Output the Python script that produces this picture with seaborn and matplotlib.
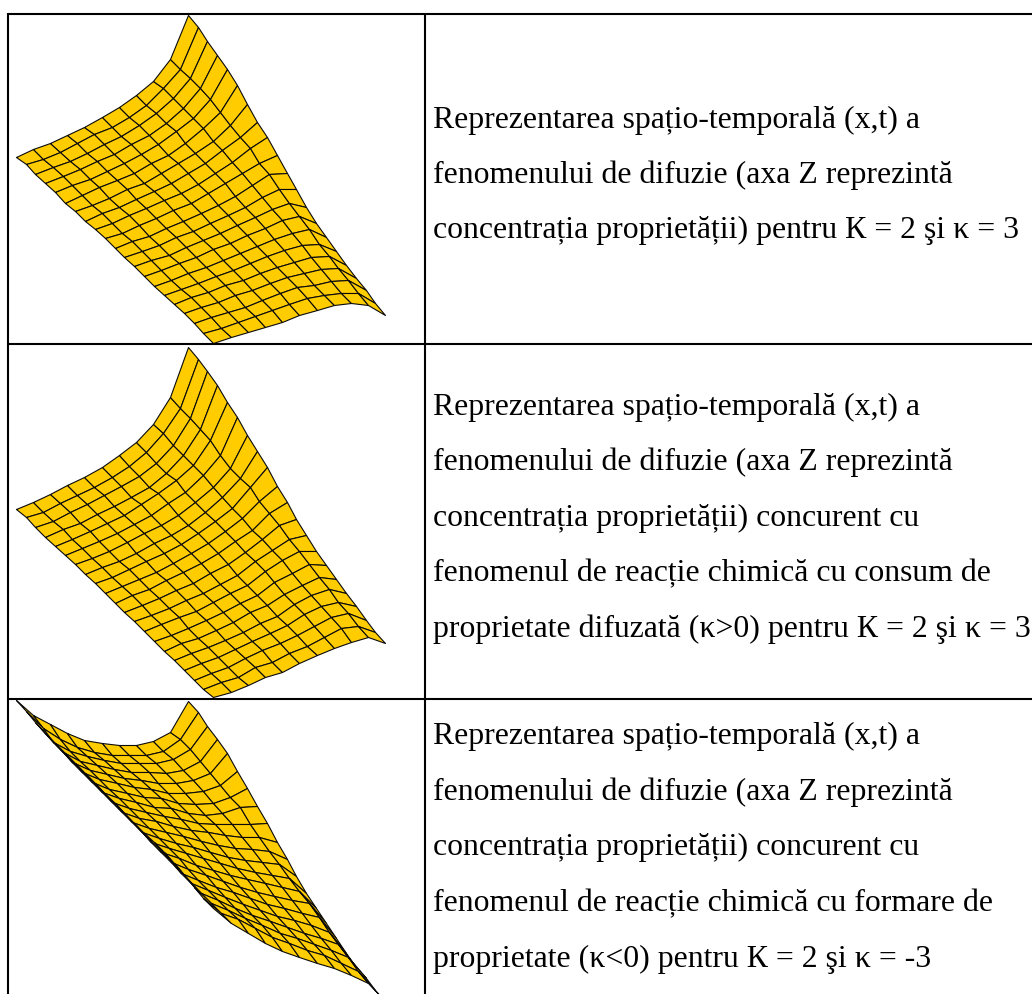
import matplotlib
matplotlib.use("Agg")
import matplotlib.pyplot as plt
from matplotlib.colors import ListedColormap
import seaborn as sns
import numpy as np

# grid of the surface: 11 nodes along x, 21 along t
x_nodes = list(range(11))
t_nodes = list(range(21))

# surface heights, one row per t node
surface_a = [
    [470, 447, 430, 405, 380, 350, 320, 285, 242, 178, 45],
    [492, 477, 455, 428, 402, 380, 350, 315, 265, 207, 80],
    [522, 500, 483, 458, 432, 408, 375, 338, 295, 235, 122],
    [548, 527, 508, 482, 462, 433, 405, 370, 325, 265, 165],
    [577, 555, 537, 512, 490, 462, 432, 392, 355, 297, 207],
    [608, 585, 562, 540, 520, 490, 465, 428, 385, 335, 255],
    [632, 615, 593, 568, 548, 520, 490, 458, 422, 375, 312],
    [662, 638, 622, 598, 573, 548, 520, 490, 450, 412, 365],
    [687, 668, 645, 625, 600, 580, 552, 520, 485, 445, 412],
    [715, 698, 675, 655, 630, 608, 580, 548, 518, 488, 465],
    [745, 723, 707, 685, 662, 640, 615, 588, 555, 522, 520],
    [770, 752, 735, 712, 692, 670, 645, 620, 590, 567, 568],
    [798, 780, 765, 742, 720, 700, 675, 652, 628, 610, 622],
    [828, 810, 790, 772, 748, 730, 705, 685, 660, 648, 668],
    [858, 840, 820, 800, 780, 760, 738, 718, 700, 688, 710],
    [885, 868, 848, 828, 810, 790, 768, 750, 735, 733, 752],
    [912, 892, 875, 855, 840, 820, 800, 785, 770, 768, 795],
    [940, 920, 905, 885, 870, 848, 830, 820, 808, 805, 833],
    [970, 952, 935, 920, 900, 880, 862, 855, 842, 840, 870],
    [1000, 985, 965, 948, 930, 912, 895, 885, 878, 880, 910],
    [1028, 1012, 997, 980, 965, 945, 930, 915, 908, 915, 945],
]
surface_b = [
    [508, 485, 462, 435, 410, 380, 345, 305, 252, 172, 20],
    [530, 515, 490, 465, 440, 410, 378, 335, 280, 205, 58],
    [562, 542, 517, 492, 465, 438, 408, 368, 315, 235, 92],
    [590, 567, 548, 523, 498, 470, 440, 400, 345, 268, 135],
    [617, 597, 572, 550, 525, 492, 460, 420, 375, 300, 185],
    [645, 625, 602, 578, 552, 525, 490, 455, 405, 345, 232],
    [672, 655, 632, 605, 580, 555, 525, 485, 440, 385, 285],
    [703, 682, 663, 638, 610, 585, 555, 515, 472, 415, 332],
    [730, 710, 688, 663, 640, 613, 580, 543, 505, 440, 382],
    [758, 738, 717, 695, 670, 640, 608, 572, 535, 482, 437],
    [788, 765, 747, 720, 695, 670, 640, 603, 570, 520, 485],
    [815, 795, 775, 750, 728, 700, 672, 635, 598, 555, 538],
    [842, 825, 805, 780, 758, 732, 705, 663, 630, 598, 585],
    [872, 853, 832, 812, 785, 760, 735, 692, 660, 633, 633],
    [903, 885, 863, 840, 815, 790, 765, 727, 700, 672, 675],
    [933, 910, 893, 870, 845, 817, 795, 762, 735, 712, 717],
    [960, 940, 922, 900, 875, 850, 828, 792, 765, 747, 760],
    [990, 970, 950, 927, 903, 878, 855, 822, 798, 785, 798],
    [1020, 1000, 980, 955, 930, 910, 885, 857, 830, 820, 840],
    [1048, 1027, 1010, 982, 965, 940, 917, 890, 865, 857, 875],
    [1072, 1055, 1035, 1012, 995, 968, 945, 923, 905, 892, 910],
]
surface_c = [
    [30, 75, 102, 130, 150, 160, 165, 165, 153, 125, 33],
    [62, 115, 148, 170, 185, 195, 195, 195, 182, 148, 65],
    [95, 155, 183, 197, 210, 220, 218, 220, 207, 178, 108],
    [130, 185, 212, 225, 238, 245, 247, 250, 240, 213, 148],
    [160, 215, 240, 253, 265, 270, 280, 280, 270, 248, 190],
    [190, 245, 268, 280, 292, 298, 308, 310, 303, 285, 243],
    [220, 275, 297, 308, 320, 325, 340, 342, 338, 320, 295],
    [250, 305, 325, 335, 350, 355, 370, 375, 368, 352, 347],
    [280, 335, 355, 365, 378, 388, 398, 402, 402, 402, 400],
    [312, 365, 385, 392, 408, 420, 427, 435, 442, 440, 455],
    [340, 395, 415, 425, 438, 452, 465, 473, 478, 482, 508],
    [370, 425, 445, 458, 470, 485, 502, 510, 515, 522, 558],
    [400, 455, 475, 490, 505, 520, 535, 545, 555, 565, 610],
    [430, 485, 505, 525, 540, 555, 568, 580, 592, 602, 655],
    [455, 515, 538, 555, 573, 590, 605, 618, 630, 640, 700],
    [485, 550, 570, 590, 607, 625, 642, 655, 668, 680, 745],
    [520, 580, 600, 622, 642, 660, 678, 690, 705, 725, 790],
    [555, 610, 630, 655, 675, 692, 710, 728, 745, 762, 830],
    [590, 640, 660, 685, 705, 728, 745, 762, 780, 800, 865],
    [625, 670, 688, 715, 740, 760, 780, 795, 820, 842, 900],
    [655, 700, 730, 760, 782, 800, 820, 835, 855, 880, 932],
]

text_a = [
    "Reprezentarea spațio-temporală (x,t) a",
    "fenomenului de difuzie (axa Z reprezintă",
    "concentrația proprietății) pentru К = 2 şi κ = 3",
]
text_b = [
    "Reprezentarea spațio-temporală (x,t) a",
    "fenomenului de difuzie (axa Z reprezintă",
    "concentrația proprietății) concurent cu",
    "fenomenul de reacție chimică cu consum de",
    "proprietate difuzată (κ>0) pentru К = 2 şi κ = 3",
]
text_c = [
    "Reprezentarea spațio-temporală (x,t) a",
    "fenomenului de difuzie (axa Z reprezintă",
    "concentrația proprietății) concurent cu",
    "fenomenul de reacție chimică cu formare de",
    "proprietate (κ<0) pentru К = 2 şi κ = -3",
]

W, H = 1032, 994
SCALE = 3  # heights were read on a 3x crop of each table row

sns.set_theme(style="white")
plt.rcParams["font.family"] = ["Liberation Serif", "DejaVu Serif"]

fig = plt.figure(figsize=(W / 100, H / 100), dpi=100, facecolor="white")


def draw_surface(heights, top_px, height_px):
    # one axes per table row, in the units the heights were read in
    ax = fig.add_axes([0, 1 - (top_px + height_px) / H, 430 / W, height_px / H])
    ax.set_xlim(0, 430 * SCALE)
    ax.set_ylim(height_px * SCALE, 0)
    ax.patch.set_alpha(0)
    sns.despine(ax=ax, left=True, bottom=True)
    ax.set_axis_off()
    xx, tt = np.meshgrid(x_nodes, t_nodes)
    screen_x = 47 + 51.6 * xx + 29.65 * tt
    colour = np.zeros((len(t_nodes) - 1, len(x_nodes) - 1))
    ax.pcolormesh(screen_x, np.array(heights), colour,
                  cmap=ListedColormap(["#FFCC00"]), shading="flat",
                  edgecolors="#0a0a0a", linewidth=0.8, antialiased=True,
                  clip_on=False)


draw_surface(surface_a, 0, 350)
draw_surface(surface_b, 340, 350)
draw_surface(surface_c, 690, 304)

# table frame on top of the surfaces
frame = fig.add_axes([0, 0, 1, 1])
frame.set_xlim(0, W)
frame.set_ylim(H, 0)
frame.patch.set_alpha(0)
frame.set_axis_off()
for y in [14, 343.5, 699]:
    frame.plot([8, W], [y, y], color="black", lw=1.5, solid_capstyle="butt")
for x in [8, 425]:
    frame.plot([x, x], [13.3, H], color="black", lw=1.5, solid_capstyle="butt")


def draw_text(lines, first_baseline, spacing):
    for n, line in enumerate(lines):
        frame.text(433, first_baseline + n * spacing, line, fontsize=22.85,
                   color="black", va="baseline", ha="left")


draw_text(text_a, 128, 54.8)
draw_text(text_b, 414.5, 55.7)
draw_text(text_c, 744, 55.7)

fig.savefig("out.png", dpi=100)
